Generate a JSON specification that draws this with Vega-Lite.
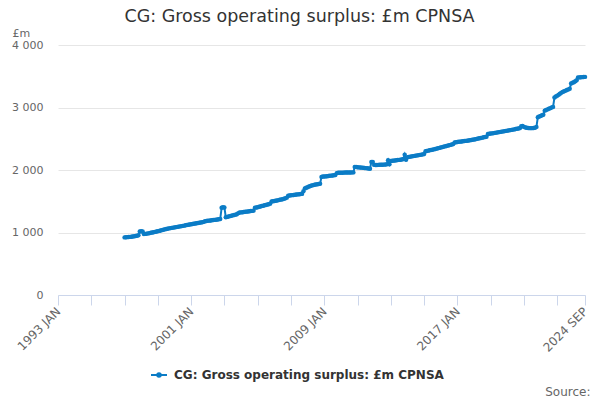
{
  "$schema": "https://vega.github.io/schema/vega-lite/v6.json",
  "width": 527, "height": 250,
  "autosize": {"type": "none"},
  "padding": {"left": 58, "top": 45, "right": 15, "bottom": 105},
  "background": "white",
  "config": {
    "font": "DejaVu Sans",
    "view": {"stroke": null},
    "axis": {"labelColor": "#666666", "labelFontSize": 11, "titleColor": "#666666", "titleFontWeight": "normal"}
  },
  "title": {"text": "CG: Gross operating surplus: £m CPNSA", "fontSize": 17.5, "fontWeight": "normal", "color": "#333333", "anchor": "middle", "dx": -22, "offset": 2},
  "data": {
    "values": [
      {"d":"1997-01","v":922},{"d":"1997-02","v":924},{"d":"1997-03","v":926},{"d":"1997-04","v":928},{"d":"1997-05","v":930},{"d":"1997-06","v":933},
      {"d":"1997-07","v":936},{"d":"1997-08","v":940},{"d":"1997-09","v":944},{"d":"1997-10","v":948},{"d":"1997-11","v":955},{"d":"1997-12","v":1015},
      {"d":"1998-01","v":1020},{"d":"1998-02","v":1015},{"d":"1998-03","v":975},{"d":"1998-04","v":978},{"d":"1998-05","v":982},{"d":"1998-06","v":986},
      {"d":"1998-07","v":990},{"d":"1998-08","v":995},{"d":"1998-09","v":1000},{"d":"1998-10","v":1005},{"d":"1998-11","v":1010},{"d":"1998-12","v":1015},
      {"d":"1999-01","v":1020},{"d":"1999-02","v":1026},{"d":"1999-03","v":1032},{"d":"1999-04","v":1038},{"d":"1999-05","v":1044},{"d":"1999-06","v":1050},
      {"d":"1999-07","v":1055},{"d":"1999-08","v":1060},{"d":"1999-09","v":1066},{"d":"1999-10","v":1070},{"d":"1999-11","v":1074},{"d":"1999-12","v":1078},
      {"d":"2000-01","v":1082},{"d":"2000-02","v":1086},{"d":"2000-03","v":1090},{"d":"2000-04","v":1094},{"d":"2000-05","v":1098},{"d":"2000-06","v":1102},
      {"d":"2000-07","v":1106},{"d":"2000-08","v":1110},{"d":"2000-09","v":1115},{"d":"2000-10","v":1120},{"d":"2000-11","v":1124},{"d":"2000-12","v":1128},
      {"d":"2001-01","v":1132},{"d":"2001-02","v":1136},{"d":"2001-03","v":1140},{"d":"2001-04","v":1144},{"d":"2001-05","v":1148},{"d":"2001-06","v":1152},
      {"d":"2001-07","v":1156},{"d":"2001-08","v":1160},{"d":"2001-09","v":1165},{"d":"2001-10","v":1170},{"d":"2001-11","v":1180},{"d":"2001-12","v":1185},
      {"d":"2002-01","v":1188},{"d":"2002-02","v":1190},{"d":"2002-03","v":1193},{"d":"2002-04","v":1196},{"d":"2002-05","v":1199},{"d":"2002-06","v":1202},
      {"d":"2002-07","v":1205},{"d":"2002-08","v":1208},{"d":"2002-09","v":1211},{"d":"2002-10","v":1215},{"d":"2002-11","v":1395},{"d":"2002-12","v":1405},
      {"d":"2003-01","v":1400},{"d":"2003-02","v":1245},{"d":"2003-03","v":1250},{"d":"2003-04","v":1256},{"d":"2003-05","v":1262},{"d":"2003-06","v":1268},
      {"d":"2003-07","v":1274},{"d":"2003-08","v":1280},{"d":"2003-09","v":1286},{"d":"2003-10","v":1292},{"d":"2003-11","v":1310},{"d":"2003-12","v":1320},
      {"d":"2004-01","v":1322},{"d":"2004-02","v":1325},{"d":"2004-03","v":1328},{"d":"2004-04","v":1331},{"d":"2004-05","v":1334},{"d":"2004-06","v":1337},
      {"d":"2004-07","v":1340},{"d":"2004-08","v":1343},{"d":"2004-09","v":1346},{"d":"2004-10","v":1350},{"d":"2004-11","v":1398},{"d":"2004-12","v":1400},
      {"d":"2005-01","v":1405},{"d":"2005-02","v":1411},{"d":"2005-03","v":1417},{"d":"2005-04","v":1423},{"d":"2005-05","v":1429},{"d":"2005-06","v":1435},
      {"d":"2005-07","v":1441},{"d":"2005-08","v":1447},{"d":"2005-09","v":1453},{"d":"2005-10","v":1462},{"d":"2005-11","v":1495},{"d":"2005-12","v":1500},
      {"d":"2006-01","v":1503},{"d":"2006-02","v":1508},{"d":"2006-03","v":1513},{"d":"2006-04","v":1518},{"d":"2006-05","v":1523},{"d":"2006-06","v":1528},
      {"d":"2006-07","v":1533},{"d":"2006-08","v":1540},{"d":"2006-09","v":1548},{"d":"2006-10","v":1558},{"d":"2006-11","v":1588},{"d":"2006-12","v":1592},
      {"d":"2007-01","v":1595},{"d":"2007-02","v":1598},{"d":"2007-03","v":1601},{"d":"2007-04","v":1604},{"d":"2007-05","v":1607},{"d":"2007-06","v":1610},
      {"d":"2007-07","v":1613},{"d":"2007-08","v":1615},{"d":"2007-09","v":1618},{"d":"2007-10","v":1660},{"d":"2007-11","v":1705},{"d":"2007-12","v":1715},
      {"d":"2008-01","v":1725},{"d":"2008-02","v":1735},{"d":"2008-03","v":1745},{"d":"2008-04","v":1752},{"d":"2008-05","v":1758},{"d":"2008-06","v":1763},
      {"d":"2008-07","v":1767},{"d":"2008-08","v":1771},{"d":"2008-09","v":1775},{"d":"2008-10","v":1780},{"d":"2008-11","v":1890},{"d":"2008-12","v":1895},
      {"d":"2009-01","v":1895},{"d":"2009-02","v":1898},{"d":"2009-03","v":1901},{"d":"2009-04","v":1904},{"d":"2009-05","v":1907},{"d":"2009-06","v":1910},
      {"d":"2009-07","v":1913},{"d":"2009-08","v":1916},{"d":"2009-09","v":1920},{"d":"2009-10","v":1950},{"d":"2009-11","v":1955},{"d":"2009-12","v":1955},
      {"d":"2010-01","v":1956},{"d":"2010-02","v":1957},{"d":"2010-03","v":1958},{"d":"2010-04","v":1959},{"d":"2010-05","v":1960},{"d":"2010-06","v":1960},
      {"d":"2010-07","v":1961},{"d":"2010-08","v":1961},{"d":"2010-09","v":1962},{"d":"2010-10","v":1962},{"d":"2010-11","v":2050},{"d":"2010-12","v":2048},
      {"d":"2011-01","v":2045},{"d":"2011-02","v":2042},{"d":"2011-03","v":2040},{"d":"2011-04","v":2038},{"d":"2011-05","v":2035},{"d":"2011-06","v":2032},
      {"d":"2011-07","v":2030},{"d":"2011-08","v":2027},{"d":"2011-09","v":2024},{"d":"2011-10","v":2020},{"d":"2011-11","v":2130},{"d":"2011-12","v":2128},
      {"d":"2012-01","v":2082},{"d":"2012-02","v":2080},{"d":"2012-03","v":2081},{"d":"2012-04","v":2082},{"d":"2012-05","v":2083},{"d":"2012-06","v":2084},
      {"d":"2012-07","v":2085},{"d":"2012-08","v":2086},{"d":"2012-09","v":2088},{"d":"2012-10","v":2090},{"d":"2012-11","v":2155},{"d":"2012-12","v":2092},
      {"d":"2013-01","v":2145},{"d":"2013-02","v":2147},{"d":"2013-03","v":2150},{"d":"2013-04","v":2153},{"d":"2013-05","v":2156},{"d":"2013-06","v":2159},
      {"d":"2013-07","v":2162},{"d":"2013-08","v":2165},{"d":"2013-09","v":2168},{"d":"2013-10","v":2175},{"d":"2013-11","v":2245},{"d":"2013-12","v":2165},
      {"d":"2014-01","v":2205},{"d":"2014-02","v":2210},{"d":"2014-03","v":2214},{"d":"2014-04","v":2218},{"d":"2014-05","v":2222},{"d":"2014-06","v":2226},
      {"d":"2014-07","v":2230},{"d":"2014-08","v":2234},{"d":"2014-09","v":2238},{"d":"2014-10","v":2242},{"d":"2014-11","v":2246},{"d":"2014-12","v":2250},
      {"d":"2015-01","v":2255},{"d":"2015-02","v":2300},{"d":"2015-03","v":2305},{"d":"2015-04","v":2310},{"d":"2015-05","v":2315},{"d":"2015-06","v":2320},
      {"d":"2015-07","v":2325},{"d":"2015-08","v":2330},{"d":"2015-09","v":2336},{"d":"2015-10","v":2342},{"d":"2015-11","v":2348},{"d":"2015-12","v":2354},
      {"d":"2016-01","v":2360},{"d":"2016-02","v":2366},{"d":"2016-03","v":2372},{"d":"2016-04","v":2378},{"d":"2016-05","v":2384},{"d":"2016-06","v":2390},
      {"d":"2016-07","v":2396},{"d":"2016-08","v":2402},{"d":"2016-09","v":2408},{"d":"2016-10","v":2415},{"d":"2016-11","v":2440},{"d":"2016-12","v":2445},
      {"d":"2017-01","v":2448},{"d":"2017-02","v":2451},{"d":"2017-03","v":2454},{"d":"2017-04","v":2457},{"d":"2017-05","v":2460},{"d":"2017-06","v":2463},
      {"d":"2017-07","v":2466},{"d":"2017-08","v":2469},{"d":"2017-09","v":2472},{"d":"2017-10","v":2476},{"d":"2017-11","v":2480},{"d":"2017-12","v":2484},
      {"d":"2018-01","v":2488},{"d":"2018-02","v":2493},{"d":"2018-03","v":2498},{"d":"2018-04","v":2503},{"d":"2018-05","v":2508},{"d":"2018-06","v":2513},
      {"d":"2018-07","v":2518},{"d":"2018-08","v":2523},{"d":"2018-09","v":2528},{"d":"2018-10","v":2533},{"d":"2018-11","v":2575},{"d":"2018-12","v":2580},
      {"d":"2019-01","v":2583},{"d":"2019-02","v":2586},{"d":"2019-03","v":2590},{"d":"2019-04","v":2594},{"d":"2019-05","v":2598},{"d":"2019-06","v":2602},
      {"d":"2019-07","v":2606},{"d":"2019-08","v":2610},{"d":"2019-09","v":2614},{"d":"2019-10","v":2618},{"d":"2019-11","v":2622},{"d":"2019-12","v":2626},
      {"d":"2020-01","v":2630},{"d":"2020-02","v":2634},{"d":"2020-03","v":2638},{"d":"2020-04","v":2642},{"d":"2020-05","v":2646},{"d":"2020-06","v":2650},
      {"d":"2020-07","v":2655},{"d":"2020-08","v":2660},{"d":"2020-09","v":2665},{"d":"2020-10","v":2670},{"d":"2020-11","v":2700},{"d":"2020-12","v":2705},
      {"d":"2021-01","v":2690},{"d":"2021-02","v":2680},{"d":"2021-03","v":2675},{"d":"2021-04","v":2672},{"d":"2021-05","v":2670},{"d":"2021-06","v":2670},
      {"d":"2021-07","v":2670},{"d":"2021-08","v":2672},{"d":"2021-09","v":2675},{"d":"2021-10","v":2690},{"d":"2021-11","v":2845},{"d":"2021-12","v":2855},
      {"d":"2022-01","v":2865},{"d":"2022-02","v":2875},{"d":"2022-03","v":2885},{"d":"2022-04","v":2950},{"d":"2022-05","v":2960},{"d":"2022-06","v":2970},
      {"d":"2022-07","v":2980},{"d":"2022-08","v":2990},{"d":"2022-09","v":3000},{"d":"2022-10","v":3010},{"d":"2022-11","v":3160},{"d":"2022-12","v":3175},
      {"d":"2023-01","v":3190},{"d":"2023-02","v":3205},{"d":"2023-03","v":3220},{"d":"2023-04","v":3235},{"d":"2023-05","v":3250},{"d":"2023-06","v":3260},
      {"d":"2023-07","v":3270},{"d":"2023-08","v":3280},{"d":"2023-09","v":3290},{"d":"2023-10","v":3300},{"d":"2023-11","v":3385},{"d":"2023-12","v":3395},
      {"d":"2024-01","v":3405},{"d":"2024-02","v":3420},{"d":"2024-03","v":3435},{"d":"2024-04","v":3480},{"d":"2024-05","v":3482},{"d":"2024-06","v":3484},
      {"d":"2024-07","v":3486},{"d":"2024-08","v":3488},{"d":"2024-09","v":3490}
    ],
    "format": {"parse": {"d": "date:'%Y-%m'"}}
  },
  "mark": {"type": "line", "strokeWidth": 2, "point": {"filled": true, "size": 20}},
  "encoding": {
    "x": {
      "field": "d", "type": "temporal",
      "scale": {"domain": [{"year": 1993, "month": 1, "date": 1}, {"year": 2024, "month": 9, "date": 1}]},
      "axis": {
        "values": [
          {"year": 1993, "month": 1, "date": 1}, {"year": 1995, "month": 1, "date": 1}, {"year": 1997, "month": 1, "date": 1},
          {"year": 1999, "month": 1, "date": 1}, {"year": 2001, "month": 1, "date": 1}, {"year": 2003, "month": 1, "date": 1},
          {"year": 2005, "month": 1, "date": 1}, {"year": 2007, "month": 1, "date": 1}, {"year": 2009, "month": 1, "date": 1},
          {"year": 2011, "month": 1, "date": 1}, {"year": 2013, "month": 1, "date": 1}, {"year": 2015, "month": 1, "date": 1},
          {"year": 2017, "month": 1, "date": 1}, {"year": 2019, "month": 1, "date": 1}, {"year": 2021, "month": 1, "date": 1},
          {"year": 2023, "month": 1, "date": 1}, {"year": 2024, "month": 9, "date": 1}
        ],
        "labelExpr": "indexof([1993, 2001, 2009, 2017], year(datum.value)) >= 0 || (year(datum.value) == 2024 && month(datum.value) == 8) ? upper(timeFormat(datum.value, '%Y %b')) : ''",
        "labelAngle": -45, "labelAlign": "right", "labelBaseline": "middle", "labelPadding": 4, "labelFontSize": 12,
        "labelOverlap": false, "labelFlush": false, "labelBound": false,
        "grid": false, "domainColor": "#ccd6eb", "tickColor": "#ccd6eb", "tickSize": 10,
        "title": "Source:", "titleFontSize": 12, "titleAnchor": "end", "titleAlign": "right",
        "titleX": 532, "titleY": 100, "titleBaseline": "alphabetic"
      }
    },
    "y": {
      "field": "v", "type": "quantitative",
      "scale": {"domain": [0, 4000]},
      "axis": {
        "values": [0, 1000, 2000, 3000, 4000],
        "labelExpr": "replace(format(datum.value, ','), ',', ' ')",
        "domain": false, "ticks": false, "gridColor": "#e6e6e6", "labelPadding": 15,
        "title": "£m", "titleAngle": 0, "titleFontSize": 11, "titleAlign": "left",
        "titleBaseline": "alphabetic", "titleX": -46, "titleY": -9
      }
    },
    "color": {
      "datum": "CG: Gross operating surplus: £m CPNSA",
      "scale": {"range": ["#0b7cc6"]},
      "legend": {
        "title": null, "orient": "none", "legendX": 92, "legendY": 321,
        "symbolType": "M-1,0L1,0M0,-0.22A0.22,0.22,0,1,1,0,0.22A0.22,0.22,0,1,1,0,-0.22Z",
        "symbolSize": 256, "symbolStrokeWidth": 2, "symbolFillColor": "#0b7cc6", "symbolStrokeColor": "#0b7cc6",
        "labelFontSize": 12, "labelFontWeight": "bold", "labelColor": "#333333", "labelOffset": 6, "labelLimit": 0
      }
    }
  }
}
